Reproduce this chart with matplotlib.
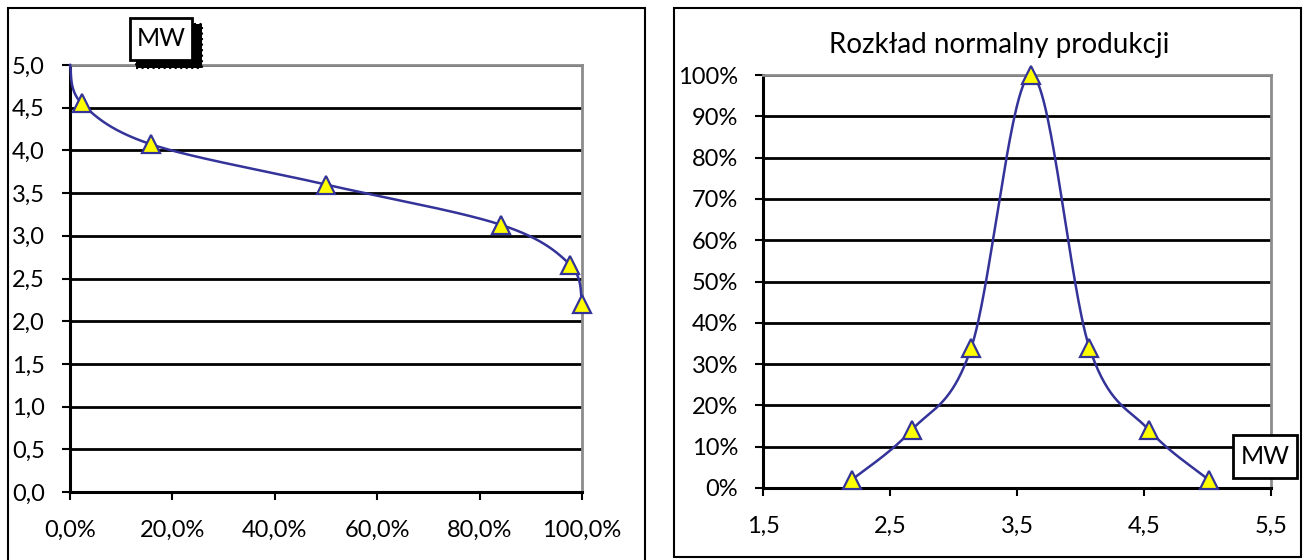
import numpy as np
import matplotlib
matplotlib.use('Agg')
import matplotlib.pyplot as plt
from matplotlib.patches import Rectangle
from matplotlib.ticker import FuncFormatter

# left chart: share of time vs production (MW)
dur_x = [0.0, 0.023, 0.159, 0.50, 0.841, 0.977, 1.0]
dur_y = [5.0, 4.55, 4.07, 3.60, 3.13, 2.66, 2.20]

# right chart: normal distribution of production
norm_x = [2.20, 2.67, 3.14, 3.61, 4.07, 4.54, 5.01]
norm_y = [0.02, 0.14, 0.34, 1.00, 0.34, 0.14, 0.02]

W, H = 1309, 560
plt.rcParams['font.family'] = ['Lato', 'DejaVu Sans']
LINE = '#333399'
FS = 17


def smooth(xs, ys, sx, sy, n=60):
    # excel-like smoothed line (catmull-rom bezier), done in pixel-ish units
    p = np.column_stack([np.asarray(xs) * sx, np.asarray(ys) * sy])
    out = []
    for i in range(len(p) - 1):
        p0 = p[i - 1] if i > 0 else p[i]
        p3 = p[i + 2] if i + 2 < len(p) else p[i + 1]
        c1 = p[i] + (p[i + 1] - p0) / 6
        c2 = p[i + 1] - (p3 - p[i]) / 6
        t = np.linspace(0, 1, n)[:, None]
        seg = (1 - t) ** 3 * p[i] + 3 * (1 - t) ** 2 * t * c1 + 3 * (1 - t) * t ** 2 * c2 + t ** 3 * p[i + 1]
        out.append(seg if i == 0 else seg[1:])
    out = np.vstack(out)
    return out[:, 0] / sx, out[:, 1] / sy


def px_axes(fig, x0, y0, x1, y1):
    return fig.add_axes([x0 / W, 1 - y1 / H, (x1 - x0) / W, (y1 - y0) / H])


def style(ax):
    for s in ('top', 'right'):
        ax.spines[s].set_color('#8c8c8c')
        ax.spines[s].set_linewidth(2)
    for s in ('left', 'bottom'):
        ax.spines[s].set_color('black')
        ax.spines[s].set_linewidth(2.2)
    ax.tick_params(length=6, width=1.5, labelsize=FS, pad=12, direction='out')
    ax.tick_params(axis='x', pad=14)
    ax.grid(axis='y', color='black', linewidth=2)
    ax.set_axisbelow(True)


def box(fig, x0, y0, x1, y1, text, shadow=False):
    if shadow:
        fig.add_artist(Rectangle(((x0 + 6) / W, 1 - (y1 + 8) / H), (x1 - x0 + 4) / W, (y1 - y0 + 2) / H,
                                 transform=fig.transFigure, facecolor='black',
                                 edgecolor='black', linestyle=':', linewidth=1.5, zorder=5))
    fig.add_artist(Rectangle((x0 / W, 1 - y1 / H), (x1 - x0) / W, (y1 - y0) / H,
                             transform=fig.transFigure, facecolor='white',
                             edgecolor='black', linewidth=2, zorder=6))
    fig.text((x0 + x1) / 2 / W, 1 - (y0 + y1) / 2 / H, text, ha='center', va='center',
             fontsize=FS + 1, zorder=7)


fig = plt.figure(figsize=(W / 100, H / 100), dpi=100)

# outer frames
fig.add_artist(Rectangle((8 / W, -0.01), 637 / W, 1 - 8 / H + 0.01, transform=fig.transFigure,
                         fill=False, edgecolor='black', linewidth=1.5))
fig.add_artist(Rectangle((674 / W, 1 - 557 / H), 627 / W, 549 / H, transform=fig.transFigure,
                         fill=False, edgecolor='black', linewidth=1.5))

# left chart
ax1 = px_axes(fig, 70, 65, 582, 492)
style(ax1)
sx, sy = smooth(dur_x, dur_y, 512 / 1.0, 427 / 5.0)
ax1.plot(sx, sy, color=LINE, linewidth=1.8, clip_on=False, zorder=3)
ax1.plot(dur_x[1:], dur_y[1:], linestyle='none', marker='^', markersize=13,
         markerfacecolor='#ffff00', markeredgecolor=LINE, markeredgewidth=1.6,
         clip_on=False, zorder=4)
ax1.set_xlim(0, 1)
ax1.set_ylim(0, 5)
ax1.set_xticks(np.arange(0, 1.01, 0.2))
ax1.set_yticks(np.arange(0, 5.01, 0.5))
ax1.xaxis.set_major_formatter(FuncFormatter(lambda v, p: f'{v * 100:.1f}%'.replace('.', ',')))
ax1.yaxis.set_major_formatter(FuncFormatter(lambda v, p: f'{v:.1f}'.replace('.', ',')))
box(fig, 130, 18, 192, 60, 'MW', shadow=True)

# right chart
ax2 = px_axes(fig, 763, 75, 1271, 488)
style(ax2)
nx, ny = smooth(norm_x, norm_y, 508 / 4.0, 413 / 1.0)
ax2.plot(nx, ny, color=LINE, linewidth=1.8, clip_on=False, zorder=3)
ax2.plot(norm_x, norm_y, linestyle='none', marker='^', markersize=13,
         markerfacecolor='#ffff00', markeredgecolor=LINE, markeredgewidth=1.6,
         clip_on=False, zorder=4)
ax2.set_xlim(1.5, 5.5)
ax2.set_ylim(0, 1)
ax2.set_xticks(np.arange(1.5, 5.51, 1.0))
ax2.set_yticks(np.arange(0, 1.01, 0.1))
ax2.xaxis.set_major_formatter(FuncFormatter(lambda v, p: f'{v:.1f}'.replace('.', ',')))
ax2.yaxis.set_major_formatter(FuncFormatter(lambda v, p: f'{v * 100:.0f}%'))
fig.text(999 / W, 1 - 45 / H, 'Rozkład normalny produkcji', ha='center', va='center', fontsize=20)
box(fig, 1233, 435, 1297, 478, 'MW')

fig.savefig('out.png', dpi=100)
